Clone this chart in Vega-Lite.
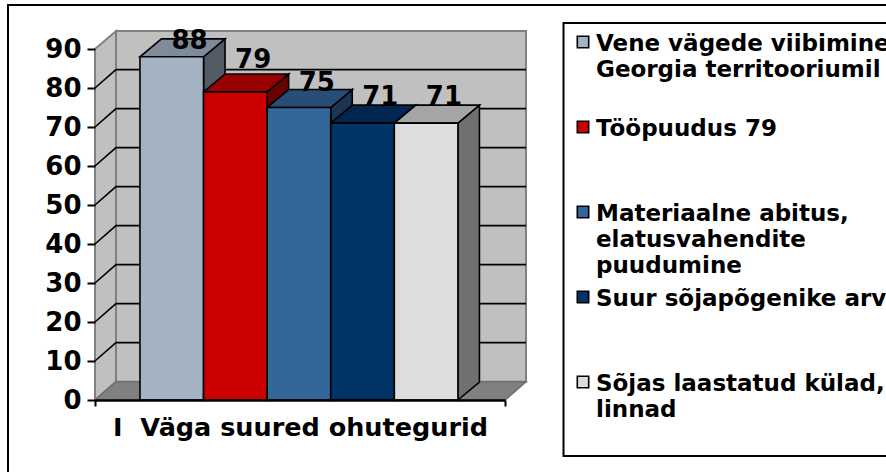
{
"$schema":"https://vega.github.io/schema/vega-lite/v6.json",
"width":410,"height":351,"autosize":"none",
"padding":{"left":95,"top":49,"right":381,"bottom":72},
"background":"white",
"config":{"view":{"stroke":null},"font":"DejaVu Sans","legend":{"strokeColor":"black","strokeWidth":2}},
"datasets":{
"bars":[
{"name":"Vene vägede viibimine\nGeorgia territooriumil","value":88,"order":0},
{"name":"Tööpuudus 79","value":79,"order":1},
{"name":"Materiaalne abitus,\nelatusvahendite\npuudumine","value":75,"order":2},
{"name":"Suur sõjapõgenike arv","value":71,"order":3},
{"name":"Sõjas laastatud külad,\nlinnad","value":71,"order":4}
],
"gridlines":[{"v":10},{"v":20},{"v":30},{"v":40},{"v":50},{"v":60},{"v":70},{"v":80}],
"leftWall":[{"x":0,"lo":0,"hi":90},{"x":0.33,"lo":4.7,"hi":94.6}],
"floor":[{"x":0,"lo":0,"hi":0},{"x":0.33,"lo":0,"hi":4.7},{"x":6.447,"lo":0,"hi":4.7},{"x":6.777,"lo":4.7,"hi":4.7}],
"backWall":[{"x":0.33,"x2":6.777,"lo":4.7,"hi":94.6}],
"frame":[{"x":-1.368,"x2":12.66,"lo":-23,"hi":101.3}]
},
"resolve":{"scale":{"y":"independent"}},
"layer":[
{
"resolve":{"scale":{"fill":"independent"}},
"layer":[
{"data":{"name":"frame"},"mark":{"type":"rect","fill":"white","stroke":"black","strokeWidth":2,"clip":false},
 "encoding":{"x":{"field":"x","type":"quantitative","scale":{"domain":[0,6.447],"nice":false},"axis":{"title":"I\u00a0\u00a0Väga suured ohutegurid","titleFont":"DejaVu Sans","titleFontWeight":"bold","titleFontSize":25.5,"titleColor":"black","titlePadding":8,"values":[0,6.447],"labels":false,"tickSize":6,"tickWidth":2,"tickColor":"black","domainColor":"black","domainWidth":2.5,"grid":false,"zindex":1}},"x2":{"field":"x2"},
 "y":{"field":"lo","type":"quantitative","scale":{"domain":[0,90],"nice":false},"axis":{"title":null,"values":[0,10,20,30,40,50,60,70,80,90],"tickCount":10,"labelOverlap":false,"labelFont":"DejaVu Sans","labelFontWeight":"bold","labelFontSize":26,"labelColor":"black","labelPadding":6,"tickSize":8,"tickWidth":2,"tickColor":"black","domain":false,"grid":false,"zindex":1}},"y2":{"field":"hi"}}},
{"data":{"name":"backWall"},"mark":{"type":"rect","fill":"#C0C0C0","stroke":"#808080","strokeWidth":2},
 "encoding":{"x":{"field":"x","type":"quantitative"},"x2":{"field":"x2"},"y":{"field":"lo","type":"quantitative"},"y2":{"field":"hi"}}},
{"data":{"name":"leftWall"},"mark":{"type":"area","fill":"#C0C0C0","stroke":"#808080","strokeWidth":2},
 "encoding":{"x":{"field":"x","type":"quantitative"},"y":{"field":"lo","type":"quantitative"},"y2":{"field":"hi"}}},
{"data":{"name":"floor"},"mark":{"type":"area","fill":"#808080","stroke":"#6e6e6e","strokeWidth":1.5},
 "encoding":{"x":{"field":"x","type":"quantitative"},"y":{"field":"lo","type":"quantitative"},"y2":{"field":"hi"}}},
{"data":{"name":"gridlines"},
 "transform":[{"calculate":"[0,0.33,6.777]","as":"px"},{"flatten":["px"]},{"calculate":"datum.px===0?datum.v:datum.v+4.7","as":"py"}],
 "mark":{"type":"line","stroke":"black","strokeWidth":1.6},
 "encoding":{"x":{"field":"px","type":"quantitative"},"y":{"field":"py","type":"quantitative"},"detail":{"field":"v"}}},
{"data":{"name":"bars"},
 "transform":[{"calculate":"[0,1]","as":"t"},{"flatten":["t"]},
  {"calculate":"datum.order+1.707+datum.t*0.338","as":"px"},
  {"calculate":"datum.t*4.6","as":"lo"},{"calculate":"datum.value+datum.t*4.6","as":"hi"}],
 "mark":{"type":"area","stroke":"black","strokeWidth":1.6},
 "encoding":{"x":{"field":"px","type":"quantitative"},"y":{"field":"lo","type":"quantitative"},"y2":{"field":"hi"},
  "detail":{"field":"order"},
  "fill":{"field":"order","type":"ordinal","legend":null,"scale":{"range":["#535C66","#6B0000","#1C3553","#011F3F","#707070"]}}}},
{"data":{"name":"bars"},
 "transform":[{"calculate":"[0,1,2,3]","as":"t"},{"flatten":["t"]},
  {"calculate":"datum.order+0.707+[0,0.338,1,1.338][datum.t]","as":"px"},
  {"calculate":"datum.value+(datum.t===3?4.6:0)","as":"lo"},{"calculate":"datum.value+(datum.t===0?0:4.6)","as":"hi"}],
 "mark":{"type":"area","stroke":"black","strokeWidth":1.6},
 "encoding":{"x":{"field":"px","type":"quantitative"},"y":{"field":"lo","type":"quantitative"},"y2":{"field":"hi"},
  "detail":{"field":"order"},
  "fill":{"field":"order","type":"ordinal","legend":null,"scale":{"range":["#7E8C9A","#990000","#284D76","#02264F","#A5A5A5"]}}}},
{"data":{"name":"bars"},
 "transform":[{"calculate":"datum.order+0.707","as":"x0"},{"calculate":"datum.order+1.707","as":"x1"}],
 "mark":{"type":"rect","stroke":"black","strokeWidth":1.6},
 "encoding":{
  "x":{"field":"x0","type":"quantitative"},
  "x2":{"field":"x1"},
  "y":{"field":"value","type":"quantitative"},
  "y2":{"datum":0},
  "fill":{"field":"name","type":"nominal","scale":{"domain":["Vene vägede viibimine\nGeorgia territooriumil","Tööpuudus 79","Materiaalne abitus,\nelatusvahendite\npuudumine","Suur sõjapõgenike arv","Sõjas laastatud külad,\nlinnad"],"range":["#A3B3C3","#CC0000","#336699","#003366","#DDDDDD"]},
   "legend":{"orient":"none","legendX":468.5,"legendY":-26,"title":null,"padding":4,"clipHeight":85,"rowPadding":0,"symbolType":"square","symbolSize":130,"symbolOffset":4,"symbolStrokeColor":"black","symbolStrokeWidth":1.6,"labelFont":"DejaVu Sans","labelFontWeight":"bold","labelFontSize":23,"labelColor":"black","labelLimit":0,"labelOffset":1.5,
    "labelExpr":"split(datum.label,'\\n')",
    "encoding":{"symbols":{"y":{"value":15}},"labels":{"y":{"value":6},"baseline":{"value":"top"},"lineHeight":{"value":26}}}}}
 }}
]},
{"data":{"name":"bars"},
 "transform":[{"calculate":"datum.order+0.707+0.5+0.28","as":"lx"}],
 "mark":{"type":"text","font":"DejaVu Sans","fontWeight":"bold","fontSize":26,"color":"black","baseline":"alphabetic"},
 "encoding":{"x":{"field":"lx","type":"quantitative"},
  "y":{"field":"value","type":"quantitative","axis":null,"scale":{"domain":[71,75,79,88],"range":[56,42,19,0]}},
  "text":{"field":"value","type":"quantitative"}}}
]
}
